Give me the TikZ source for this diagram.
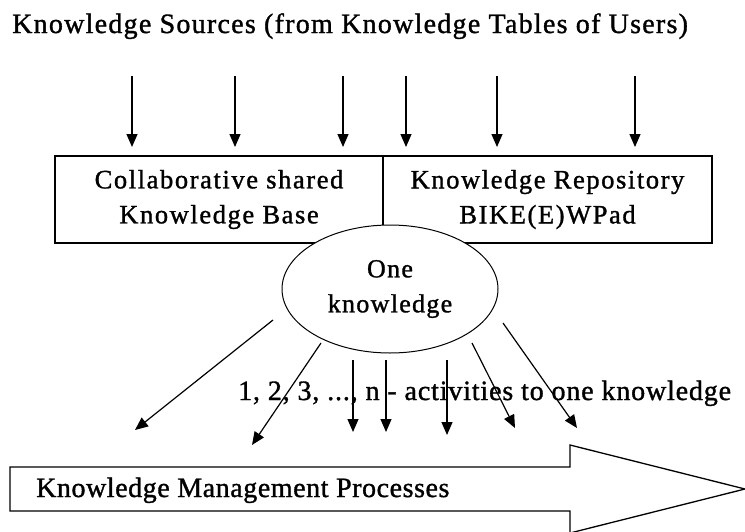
\documentclass[tikz,border=0pt]{standalone}
\usepackage{fontspec}
\setmainfont{Liberation Serif}[FakeBold=1.2]
\usetikzlibrary{arrows.meta,shapes.geometric}
\begin{document}
\begin{tikzpicture}[x=1pt,y=-1pt,
  arr/.style={draw=black,line width=1.2pt,-{Triangle[width=11pt,length=13pt]}},
  halfbox/.style={draw=black,line width=1.3pt,minimum height=87pt,inner sep=0pt,align=center,font=\fontsize{26.5}{35}\selectfont\addfontfeature{LetterSpace=6}},
  lbl/.style={anchor=base west,inner sep=0pt}]
\useasboundingbox (0,0) rectangle (745,531);
% title
\node[lbl,font=\fontsize{28}{30}\selectfont\addfontfeature{LetterSpace=4.5}] (title) at (12,33) {Knowledge Sources (from Knowledge Tables of Users)};
% boxes
\node[halfbox,minimum width=328pt] (kb) at (219,199.5) {Collaborative shared\\Knowledge Base};
\node[halfbox,minimum width=329pt] (kr) at (547.5,199.5) {Knowledge Repository\\BIKE(E)WPad};
% ellipse
\node[ellipse,draw=black,fill=white,line width=1pt,minimum width=216pt,minimum height=128pt,inner sep=0pt,align=center,font=\fontsize{26}{35}\selectfont\addfontfeature{LetterSpace=5}] (one) at (390,289) {One\\knowledge};
% top arrows
\foreach \i/\x in {1/132,2/235,3/343,4/406,5/497,6/635}{
  \coordinate (s\i) at (\x,76);
  \coordinate (t\i) at (\x,147);
  \draw[arr] (s\i) -- (t\i);
}
% bottom arrows
\coordinate (a1) at (273,320); \coordinate (b1) at (135,430);
\coordinate (a2) at (321,343); \coordinate (b2) at (252,445);
\coordinate (a3) at (353,360); \coordinate (b3) at (353,432);
\coordinate (a4) at (386,360); \coordinate (b4) at (386,432);
\coordinate (a5) at (447,360); \coordinate (b5) at (447,435);
\coordinate (a6) at (472,343); \coordinate (b6) at (515,428);
\coordinate (a7) at (503,323); \coordinate (b7) at (577,428);
\foreach \i in {1,...,7}{\draw[arr] (a\i) -- (b\i);}
% label
\node[lbl,font=\fontsize{28}{30}\selectfont\addfontfeature{LetterSpace=3}] (act) at (238,400) {1, 2, 3, ..., n - activities to one knowledge};
% big arrow
\draw[line width=1.3pt,fill=white] (10,467) -- (570,467) -- (570,445) -- (745,489) -- (570,533) -- (570,511) -- (10,511) -- cycle;
\node[lbl,font=\fontsize{28}{30}\selectfont\addfontfeature{LetterSpace=2}] (kmp) at (36,497) {Knowledge Management Processes};
\end{tikzpicture}
\end{document}
